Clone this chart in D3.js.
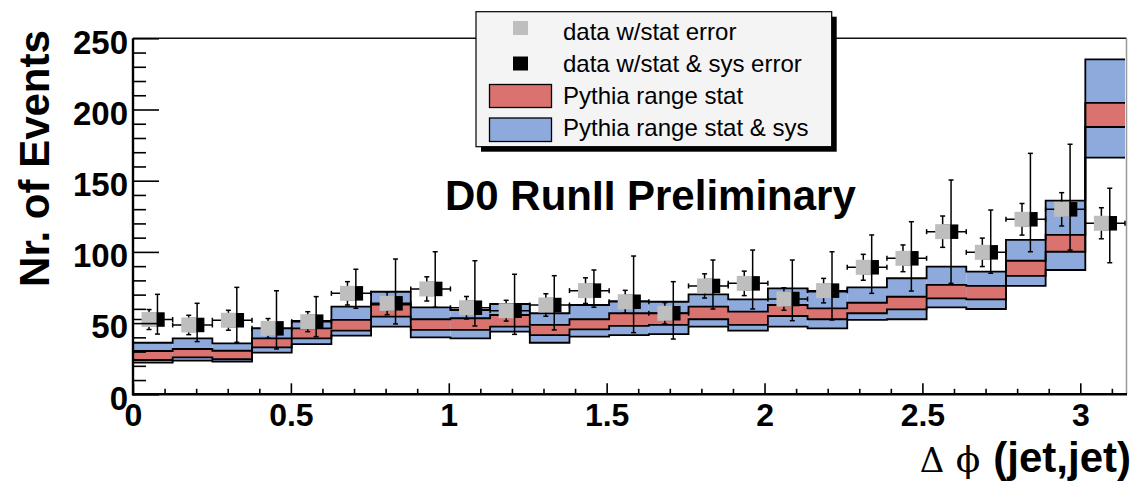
<!DOCTYPE html>
<html>
<head>
<meta charset="utf-8">
<script src="https://cdn.jsdelivr.net/npm/d3@7"></script>
<style>
  html, body { margin: 0; padding: 0; background: #fff; }
  svg { display: block; font-family: "Liberation Sans", Arial, Helvetica, sans-serif; }
</style>
</head>
<body>
<svg id="chart" width="1134" height="481"></svg>
<script>
// 25 bins in delta phi, 0..pi
const pythiaSysHigh = [36.2, 39.3, 35.8, 46.3, 51.5, 61.5, 72.0, 61.1, 59.2, 63.4, 56.9, 62.7, 65.5,
                       65.0, 70.2, 66.7, 74.4, 72.1, 75.1, 81.5, 89.6, 86.1, 108.4, 136.0, 235.2];
const pythiaStatHigh = [30.4, 31.8, 30.6, 39.3, 46.3, 52.2, 63.0, 52.7, 53.4, 55.7, 48.7, 52.7, 56.9,
                        56.9, 61.5, 58.0, 62.7, 60.4, 64.3, 68.5, 76.8, 76.1, 93.8, 111.9, 204.6];
const pythiaStatLow = [24.1, 26.0, 24.6, 33.0, 39.3, 44.7, 54.5, 45.2, 45.2, 47.5, 41.6, 45.6, 48.0,
                       48.7, 52.7, 48.7, 55.0, 52.7, 56.9, 59.7, 67.4, 66.7, 83.1, 100.1, 187.7];
const pythiaSysLow = [22.2, 23.6, 22.9, 29.2, 35.3, 41.2, 47.5, 40.0, 39.3, 44.0, 36.2, 40.5, 41.6,
                      42.3, 47.5, 44.7, 47.5, 46.3, 52.2, 52.7, 61.1, 59.9, 76.1, 87.3, 166.2];

const dataValues = [52.5, 48.7, 52.0, 46.3, 51.0, 70.9, 63.9, 74.0, 60.8, 58.7, 62.7, 72.8, 65.0,
                    56.9, 76.1, 77.9, 66.9, 72.8, 89.2, 95.5, 114.2, 99.7, 122.9, 129.9, 120.1];
const dataStatErr = [7, 6.8, 7, 6.9, 7, 8.2, 8, 8.5, 7.9, 7.3, 7.9, 9, 8,
                     7.5, 8.5, 8.6, 7.9, 8.6, 9.1, 9.4, 11, 10, 11.1, 11.7, 10.9];
const dataTotHigh = [70.2, 63.9, 75.1, 72.7, 68.6, 87.8, 95.0, 100.1, 93.8, 84.3, 83.3, 87.3, 97.1,
                     79.1, 94.3, 101.3, 94.3, 100.1, 111.9, 121.2, 150.5, 129.4, 169.2, 175.6, 144.7];
const dataTotLow = [42.3, 37.0, 36.5, 31.8, 40.5, 60.4, 49.4, 61.1, 48.0, 42.1, 45.2, 61.1, 43.3,
                    38.8, 59.9, 59.9, 51.7, 52.2, 70.9, 72.5, 77.9, 85.0, 100.1, 101.3, 92.4];

const xMajorTicks = [0, 0.5, 1, 1.5, 2, 2.5, 3];
const yMajorTicks = [0, 50, 100, 150, 200, 250];
const legendLabels = ["data w/stat error", "data w/stat & sys error", "Pythia range stat", "Pythia range stat & sys"];

const RED = "#da7370", BLUE = "#8eaadc", GREY = "#bebebe";

const svg = d3.select("#chart");
const x = d3.scaleLinear().domain([0, Math.PI]).range([133, 1125]);
const y = d3.scaleLinear().domain([0, 250]).range([394.3, 38.3]);
const nBins = dataValues.length;
const binW = Math.PI / nBins;
const bins = d3.range(nBins);
const lo = i => i * binW, hi = i => (i + 1) * binW, mid = i => (i + 0.5) * binW;

// frame (top + right)
svg.append("line").attr("x1", x(0)).attr("x2", x(Math.PI) + 1.5).attr("y1", y(250)).attr("y2", y(250))
  .attr("stroke", "#111").attr("stroke-width", 1.5);
svg.append("line").attr("x1", x(Math.PI) + 1.5).attr("x2", x(Math.PI) + 1.5).attr("y1", y(250)).attr("y2", y(0))
  .attr("stroke", "#999").attr("stroke-width", 1.5);

// pythia bands
const band = svg.append("g");
band.selectAll(".sys").data(bins).join("rect")
  .attr("x", i => x(lo(i))).attr("width", i => x(hi(i)) - x(lo(i)))
  .attr("y", i => y(pythiaSysHigh[i])).attr("height", i => y(pythiaSysLow[i]) - y(pythiaSysHigh[i]))
  .attr("fill", BLUE);
band.selectAll(".stat").data(bins).join("rect")
  .attr("x", i => x(lo(i))).attr("width", i => x(hi(i)) - x(lo(i)))
  .attr("y", i => y(pythiaStatHigh[i])).attr("height", i => y(pythiaStatLow[i]) - y(pythiaStatHigh[i]))
  .attr("fill", RED);

const step = d3.line().x(d => x(d[0])).y(d => y(d[1])).curve(d3.curveStepAfter);
[pythiaSysHigh, pythiaStatHigh, pythiaStatLow, pythiaSysLow].forEach(arr => {
  const pts = bins.map(i => [lo(i), arr[i]]);
  pts.push([Math.PI, arr[nBins - 1]]);
  band.append("path").attr("d", step(pts)).attr("fill", "none")
    .attr("stroke", "#000").attr("stroke-width", 1.8);
});

// data points
const pts = svg.append("g").attr("stroke", "#000").attr("stroke-width", 1.5);
const blackOff = 0.0146, greyOff = -0.012, cap = 2.5, sq = 14.5;
bins.forEach(i => {
  const xb = x(mid(i) + blackOff), xg = x(mid(i) + greyOff), yv = y(dataValues[i]);
  // stat & sys
  pts.append("line").attr("x1", xb).attr("x2", xb).attr("y1", y(dataTotHigh[i])).attr("y2", y(dataTotLow[i]));
  [dataTotHigh[i], dataTotLow[i]].forEach(v =>
    pts.append("line").attr("x1", xb - cap).attr("x2", xb + cap).attr("y1", y(v)).attr("y2", y(v)));
  pts.append("rect").attr("x", xb - sq / 2).attr("y", yv - sq / 2).attr("width", sq).attr("height", sq)
    .attr("fill", "#000").attr("stroke", "none");
  // bin width bar
  pts.append("line").attr("x1", x(lo(i))).attr("x2", x(hi(i))).attr("y1", yv).attr("y2", yv);
  [lo(i), hi(i)].forEach(v =>
    pts.append("line").attr("x1", x(v)).attr("x2", x(v)).attr("y1", yv - cap).attr("y2", yv + cap));
  // stat only
  const sHi = y(dataValues[i] + dataStatErr[i]), sLo = y(dataValues[i] - dataStatErr[i]);
  pts.append("line").attr("x1", xg).attr("x2", xg).attr("y1", sHi).attr("y2", sLo);
  [sHi, sLo].forEach(v =>
    pts.append("line").attr("x1", xg - cap).attr("x2", xg + cap).attr("y1", v).attr("y2", v));
  pts.append("rect").attr("x", xg - 7.5).attr("y", yv - 7.5).attr("width", 15).attr("height", 15)
    .attr("fill", GREY).attr("stroke", "none");
});

// axes
const xMinor = d3.range(1, 32).filter(k => k % 5 !== 0).map(k => k / 10);
const yMinor = d3.range(10, 250, 10).filter(v => v % 50 !== 0);

function styleAxis(g) {
  g.select(".domain").remove();
  g.selectAll(".tick line").attr("stroke", "#000").attr("stroke-width", 1.6);
  g.selectAll(".tick text").attr("fill", "#000").attr("font-weight", "bold")
    .attr("font-family", "'Liberation Sans', Arial, Helvetica, sans-serif");
}

svg.append("g").attr("transform", `translate(0,${y(0)})`)
  .call(d3.axisBottom(x).tickValues(xMinor).tickSize(-5.5).tickFormat("")).call(styleAxis);
svg.append("g").attr("transform", `translate(0,${y(0)})`)
  .call(d3.axisBottom(x).tickValues(xMajorTicks).tickSize(-11).tickPadding(9).tickFormat(d => String(d)))
  .call(styleAxis)
  .call(g => g.selectAll(".tick text").attr("font-size", 32));

svg.append("g").attr("transform", `translate(${x(0)},0)`)
  .call(d3.axisLeft(y).tickValues(yMinor).tickSize(-13).tickFormat("")).call(styleAxis);
svg.append("g").attr("transform", `translate(${x(0)},0)`)
  .call(d3.axisLeft(y).tickValues(yMajorTicks).tickSize(-26).tickPadding(5).tickFormat(d => String(d)))
  .call(styleAxis)
  .call(g => g.selectAll(".tick text").attr("font-size", 33).attr("dy", "0.45em"));

svg.append("line").attr("x1", x(0)).attr("x2", x(0)).attr("y1", y(250)).attr("y2", y(0) + 1)
  .attr("stroke", "#000").attr("stroke-width", 2.4);
svg.append("line").attr("x1", x(0) - 1).attr("x2", x(Math.PI) + 2).attr("y1", y(0)).attr("y2", y(0))
  .attr("stroke", "#000").attr("stroke-width", 2.4);

// axis titles
svg.append("text").attr("transform", "translate(49,158.5) rotate(-90)")
  .attr("text-anchor", "middle").attr("font-size", 42).attr("font-weight", "bold").text("Nr. of Events");
svg.append("text").attr("x", 1131).attr("y", 471.5).attr("text-anchor", "end")
  .attr("font-size", 42).attr("font-weight", "bold").text("(jet,jet)");
svg.append("text").attr("x", 968).attr("y", 471.5).attr("text-anchor", "middle")
  .attr("font-family", "'DejaVu Serif', serif").attr("font-size", 36).text("\u03D5");
svg.append("text").attr("x", 932).attr("y", 471.5).attr("text-anchor", "middle")
  .attr("font-family", "'DejaVu Serif', serif").attr("font-size", 34).text("\u0394");

svg.append("text").attr("x", 445).attr("y", 210).attr("font-size", 42).attr("font-weight", "bold")
  .text("D0 RunII Preliminary");

// legend
const leg = svg.append("g");
leg.append("rect").attr("x", 481).attr("y", 16.7).attr("width", 355.7).attr("height", 135).attr("fill", "#000");
leg.append("rect").attr("x", 476).attr("y", 11.7).attr("width", 355.7).attr("height", 135)
  .attr("fill", "#f4f4f4").attr("stroke", "#000").attr("stroke-width", 1.2);
leg.append("rect").attr("x", 513).attr("y", 21).attr("width", 15).attr("height", 14).attr("fill", GREY);
leg.append("rect").attr("x", 513).attr("y", 56.5).attr("width", 15).attr("height", 14).attr("fill", "#000");
leg.append("rect").attr("x", 489.5).attr("y", 84.5).attr("width", 62).attr("height", 23)
  .attr("fill", RED).attr("stroke", "#000").attr("stroke-width", 1.3);
leg.append("rect").attr("x", 489.5).attr("y", 118).attr("width", 62).attr("height", 23.5)
  .attr("fill", BLUE).attr("stroke", "#000").attr("stroke-width", 1.3);
const legY = [40, 71.5, 104, 136];
leg.selectAll(".lt").data(legendLabels).join("text")
  .attr("x", 563).attr("y", (d, i) => legY[i]).attr("font-size", 24).attr("fill", "#000").text(d => d);
</script>
</body>
</html>
